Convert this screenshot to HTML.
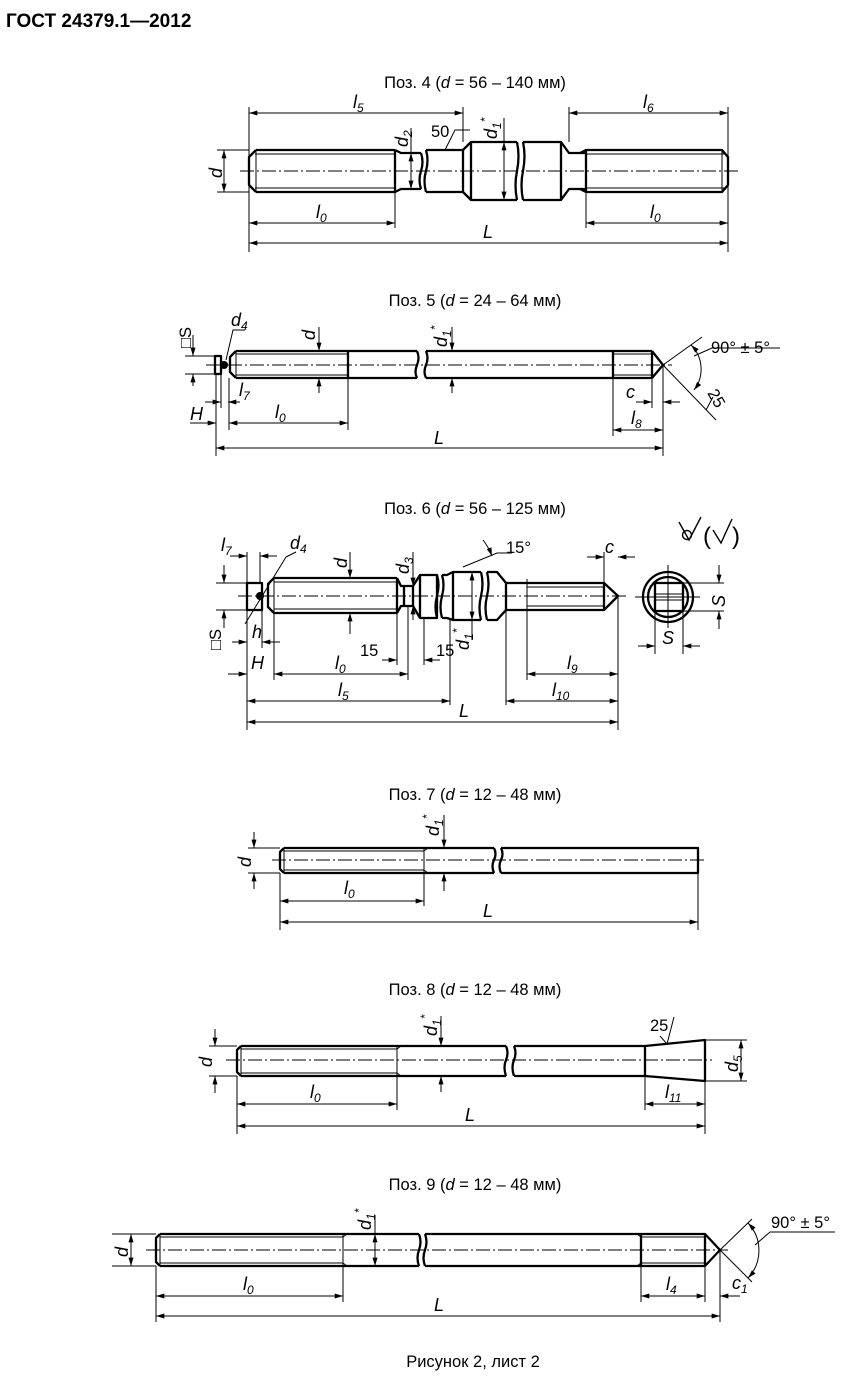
<!DOCTYPE html>
<html><head><meta charset="utf-8">
<style>
html,body{margin:0;padding:0;background:#fff;}
svg{display:block;}
text{font-family:"Liberation Sans",sans-serif;fill:#000;}
.t{font-size:16.5px;}
.i{font-style:italic;font-size:18px;}
.s{font-size:12px;font-style:italic;}
.o{stroke:#000;stroke-width:2.3;fill:none;stroke-linejoin:round;}
.n{stroke:#000;stroke-width:1;fill:none;}
.c{stroke:#000;stroke-width:0.9;fill:none;stroke-dasharray:14 3 2 3;}
.d{stroke:#000;stroke-width:1;fill:none;marker-start:url(#a);marker-end:url(#a);}
.e{stroke:#000;stroke-width:1;fill:none;marker-end:url(#a);}
</style></head><body>
<svg width="850" height="1381" viewBox="0 0 850 1381" xmlns="http://www.w3.org/2000/svg">
<defs>
<marker id="a" viewBox="0 0 10 6" refX="10" refY="3" markerWidth="11" markerHeight="5" orient="auto-start-reverse" markerUnits="userSpaceOnUse"><path d="M0,0 L10,3 L0,6 z" fill="#000"/></marker>
</defs>
<text x="6" y="27" style="font-size:19px;font-weight:bold">ГОСТ 24379.1—2012</text>

<!-- ===== Поз 4 ===== -->
<text x="475" y="88" class="t" text-anchor="middle">Поз. 4 (<tspan font-style="italic">d</tspan> = 56 – 140 мм)</text>
<line class="c" x1="240" y1="171" x2="740" y2="171"/>
<path class="o" d="M256,150 L395,150 M256,192 L395,192 M256,150 L249,157 L249,185 L256,192 M395,150 L395,192"/>
<path class="n" d="M255,154 L395,154 M255,188 L395,188 M256,150 L256,192"/>
<path class="o" d="M395,150 L401,153 L421,153 M395,192 L401,189 L421,189"/>
<path class="o" d="M421,153 q3,9 0,18 q-3,9 0,18 M426,150 q3,10 0,21 q-3,10 0,21"/>
<path class="o" d="M426,150 L463,150 L471,142 L517,142 M426,192 L463,192 L471,200 L517,200 M471,142 L471,200 M463,150 L463,192"/>
<path class="o" d="M517,142 q3,14 0,29 q-3,14 0,29 M523,142 q3,14 0,29 q-3,14 0,29"/>
<path class="o" d="M523,142 L561,142 L569,153 L586,153 M523,200 L561,200 L569,189 L586,189 M561,142 L561,200"/>
<path class="o" d="M580,153 L586,150 L722,150 L728,157 L728,185 L722,192 L586,192 L580,189 M586,150 L586,192"/>
<path class="n" d="M586,154 L725,154 M586,188 L725,188 M722,150 L722,192"/>
<path class="n" d="M249,107 L249,252 M463,107 L463,142 M569,107 L569,142 M728,107 L728,252 M395,192 L395,228 M586,192 L586,228 M217,150 L249,150 M217,192 L249,192"/>
<line class="d" x1="249" y1="113" x2="463" y2="113"/>
<line class="d" x1="569" y1="113" x2="728" y2="113"/>
<line class="d" x1="249" y1="223" x2="395" y2="223"/>
<line class="d" x1="586" y1="223" x2="728" y2="223"/>
<line class="d" x1="249" y1="243" x2="728" y2="243"/>
<line class="d" x1="224" y1="150" x2="224" y2="192"/>
<line class="d" x1="411" y1="153" x2="411" y2="189"/>
<path class="n" d="M411,128 L411,153 M504,118 L504,142"/>
<line class="d" x1="504" y1="142" x2="504" y2="200"/>
<path class="n" d="M445,150 L455,130 L470,130"/>
<text x="353" y="108" class="i">l<tspan class="s" dy="4">5</tspan></text>
<text x="643" y="108" class="i">l<tspan class="s" dy="4">6</tspan></text>
<text x="316" y="218" class="i">l<tspan class="s" dy="4">0</tspan></text>
<text x="650" y="218" class="i">l<tspan class="s" dy="4">0</tspan></text>
<text x="483" y="238" class="i">L</text>
<text class="i" transform="translate(222,178) rotate(-90)">d</text>
<text class="i" transform="translate(408,147) rotate(-90)">d<tspan class="s" dy="4">2</tspan></text>
<text class="i" transform="translate(497,139) rotate(-90)">d<tspan class="s" dy="4">1</tspan><tspan class="s" dy="-12">*</tspan></text>
<text x="431" y="137" class="t">50</text>

<!-- ===== Поз 5 ===== -->
<text x="475" y="306" class="t" text-anchor="middle">Поз. 5 (<tspan font-style="italic">d</tspan> = 24 – 64 мм)</text>
<line class="c" x1="206" y1="365" x2="672" y2="365"/>
<path class="o" d="M215,356 L221,356 L221,374 L215,374 Z"/>
<path class="o" d="M236,351 L348,351 M236,378 L348,378 M236,351 L230,357 L230,372 L236,378 M348,351 L348,378"/>
<path class="n" d="M236,354 L348,354 M236,375 L348,375 M236,351 L236,378"/>
<path class="o" d="M348,351 L417,351 M348,378 L417,378 M417,351 q3,7 0,14 q-3,7 0,13 M426,351 q3,7 0,14 q-3,7 0,13 M426,351 L652,351 M426,378 L652,378"/>
<path class="o" d="M613,351 L613,378 M652,351 L663,365 L652,378 M652,351 L652,378"/>
<path class="n" d="M613,354 L652,354 M613,375 L652,375"/>
<circle cx="224" cy="365" r="4" fill="#000"/>
<path class="n" d="M663,365 L702,337 M663,365 L716,420 M613,378 L613,436 M663,365 L663,456 M652,378 L652,408 M216,374 L216,456 M221,374 L221,408 M229,378 L229,430 M348,378 L348,430 M185,356 L215,356 M185,374 L215,374"/>
<line class="d" x1="229" y1="423" x2="348" y2="423"/>
<line class="d" x1="216" y1="448" x2="663" y2="448"/>
<line class="d" x1="613" y1="430" x2="663" y2="430"/>
<line class="e" x1="636" y1="402" x2="652" y2="402"/>
<line class="e" x1="680" y1="402" x2="663" y2="402"/>
<line class="e" x1="190" y1="423" x2="216" y2="423"/>
<line class="e" x1="205" y1="402" x2="221" y2="402"/>
<line class="e" x1="240" y1="402" x2="228" y2="402"/>
<line class="e" x1="193" y1="335" x2="193" y2="356"/>
<line class="e" x1="193" y1="386" x2="193" y2="374"/>
<line class="e" x1="319" y1="327" x2="319" y2="351"/>
<line class="e" x1="319" y1="393" x2="319" y2="378"/>
<line class="e" x1="452" y1="327" x2="452" y2="351"/>
<line class="e" x1="452" y1="393" x2="452" y2="378"/>
<path class="n" d="M245,330 L233,330 L226,360"/>
<path d="M691,345 A34,34 0 0 1 694,390" class="d"/>
<path class="n" d="M694,356 L712,348 L780,348"/>
<path class="n" d="M706,410 L713,397"/>
<text x="231" y="326" class="i">d<tspan class="s" dy="4">4</tspan></text>
<text class="i" transform="translate(315,340) rotate(-90)">d</text>
<text class="i" transform="translate(447,347) rotate(-90)">d<tspan class="s" dy="4">1</tspan><tspan class="s" dy="-12">*</tspan></text>
<text class="t" transform="translate(191,348) rotate(-90)">□S</text>
<text x="239" y="396" class="i">l<tspan class="s" dy="4">7</tspan></text>
<text x="190" y="420" class="i">H</text>
<text x="275" y="418" class="i">l<tspan class="s" dy="4">0</tspan></text>
<text x="434" y="444" class="i">L</text>
<text x="626" y="398" class="i">c</text>
<text x="631" y="424" class="i">l<tspan class="s" dy="4">8</tspan></text>
<text x="711" y="353" class="t">90° ± 5°</text>
<text class="t" transform="translate(707,393) rotate(60)">25</text>

<!-- ===== Поз 6 ===== -->
<text x="475" y="514" class="t" text-anchor="middle">Поз. 6 (<tspan font-style="italic">d</tspan> = 56 – 125 мм)</text>
<line class="c" x1="238" y1="596" x2="628" y2="596"/>
<path class="o" d="M247,583 L262,583 L262,610 L247,610 Z"/>
<path class="o" d="M274,578 L397,578 M274,613 L397,613 M274,578 L268,584 L268,607 L274,613 M397,578 L397,613"/>
<path class="n" d="M274,582 L397,582 M274,609 L397,609 M274,578 L274,613"/>
<path class="o" d="M397,578 L401,586 L404,586 L404,606 L401,606 L397,613"/>
<path class="o" d="M404,586 L413,586 L413,606 L404,606"/>
<path class="o" d="M413,586 L420,575 L437,575 L437,618 L420,618 L413,606 M420,575 L420,618"/>
<path class="o" d="M437,575 q3,10 0,21 q-3,11 0,22 M442,575 q3,10 0,21 q-3,11 0,22"/>
<path class="o" d="M442,575 L447,575 L453,572 L481,572 M442,618 L447,618 L453,620 L481,620 M453,572 L453,620 M481,572 q3,12 0,24 q-3,12 0,24 M487,572 q3,12 0,24 q-3,12 0,24 M487,572 L497,572 L506,583 L527,583 M487,620 L497,620 L506,610 L527,610 M506,583 L506,610"/>
<path class="o" d="M527,583 L604,583 L618,596 L604,610 L527,610 M604,583 L604,610"/>
<path class="n" d="M527,579 L527,614 M527,587 L604,587 M527,606 L604,606"/>
<circle cx="260" cy="596" r="4" fill="#000"/>
<circle cx="668" cy="597" r="25" class="o"/>
<circle cx="668" cy="597" r="20" class="o"/>
<rect x="655" y="583" width="28" height="28" class="o"/>
<path class="n" d="M668,565 L668,628 M635,597 L700,597 M655,594 L683,594 M655,600 L683,600"/>
<path class="n" d="M683,583 L724,583 M683,611 L724,611 M655,611 L655,654 M683,611 L683,654"/>
<line class="e" x1="719" y1="565" x2="719" y2="583"/>
<line class="e" x1="719" y1="629" x2="719" y2="611"/>
<line class="e" x1="638" y1="646" x2="655" y2="646"/>
<line class="e" x1="700" y1="646" x2="683" y2="646"/>
<text class="i" transform="translate(725,607) rotate(-90)">S</text>
<text x="662" y="644" class="i">S</text>
<path class="n" d="M679,522 L689,540 L701,517" style="stroke-width:1.4"/>
<circle cx="687" cy="535" r="4.5" class="n" style="stroke-width:1.4"/>
<text x="703" y="544" style="font-size:24px;font-family:'Liberation Sans',sans-serif">(</text>
<path class="n" d="M713,530 L721,543 L732,519" style="stroke-width:1.4"/>
<text x="732" y="544" style="font-size:24px;font-family:'Liberation Sans',sans-serif">)</text>
<path class="n" d="M247,552 L247,730 M260,552 L260,583 M274,613 L274,680 M262,610 L262,648 M397,613 L397,665 M408,606 L408,680 M424,618 L424,665 M450,620 L450,705 M506,610 L506,705 M527,614 L527,680 M604,552 L604,583 M618,596 L618,730 M216,583 L247,583 M216,610 L247,610"/>
<line class="e" x1="230" y1="556" x2="247" y2="556"/>
<line class="e" x1="277" y1="556" x2="260" y2="556"/>
<line class="e" x1="587" y1="557" x2="604" y2="557"/>
<line class="e" x1="635" y1="557" x2="618" y2="557"/>
<line class="e" x1="224" y1="565" x2="224" y2="583"/>
<line class="e" x1="224" y1="628" x2="224" y2="610"/>
<line class="e" x1="232" y1="642" x2="247" y2="642"/>
<line class="e" x1="280" y1="642" x2="262" y2="642"/>
<line class="e" x1="228" y1="674" x2="247" y2="674"/>
<line class="d" x1="274" y1="674" x2="408" y2="674"/>
<line class="e" x1="382" y1="660" x2="397" y2="660"/>
<line class="e" x1="440" y1="660" x2="424" y2="660"/>
<line class="d" x1="247" y1="701" x2="450" y2="701"/>
<line class="d" x1="247" y1="722" x2="618" y2="722"/>
<line class="d" x1="527" y1="674" x2="618" y2="674"/>
<line class="d" x1="506" y1="701" x2="618" y2="701"/>
<line class="e" x1="350" y1="552" x2="350" y2="578"/>
<line class="e" x1="350" y1="634" x2="350" y2="613"/>
<line class="e" x1="413" y1="552" x2="413" y2="586"/>
<line class="e" x1="413" y1="620" x2="413" y2="606"/>
<line class="d" x1="472" y1="572" x2="472" y2="620"/>
<path class="n" d="M472,620 L472,640"/>
<path class="n" d="M286,557 L245,624 M296,552 L286,557"/>
<path class="n" d="M463,567 L497,553 L512,553"/>
<path class="e" d="M483,540 A60,60 0 0 1 492,556"/>
<text x="290" y="549" class="i">d<tspan class="s" dy="4">4</tspan></text>
<text x="221" y="551" class="i">l<tspan class="s" dy="4">7</tspan></text>
<text class="i" transform="translate(347,568) rotate(-90)">d</text>
<text class="i" transform="translate(409,574) rotate(-90)">d<tspan class="s" dy="4">3</tspan></text>
<text class="i" transform="translate(469,650) rotate(-90)">d<tspan class="s" dy="4">1</tspan><tspan class="s" dy="-12">*</tspan></text>
<text x="506" y="553" class="t">15°</text>
<text x="605" y="553" class="i">c</text>
<text class="t" transform="translate(221,650) rotate(-90)">□S</text>
<text x="252" y="638" class="i">h</text>
<text x="251" y="669" class="i">H</text>
<text x="335" y="669" class="i">l<tspan class="s" dy="4">0</tspan></text>
<text x="360" y="656" class="t">15</text>
<text x="436" y="656" class="t">15</text>
<text x="338" y="696" class="i">l<tspan class="s" dy="4">5</tspan></text>
<text x="459" y="717" class="i">L</text>
<text x="567" y="669" class="i">l<tspan class="s" dy="4">9</tspan></text>
<text x="552" y="696" class="i">l<tspan class="s" dy="4">10</tspan></text>

<!-- ===== Поз 7 ===== -->
<text x="475" y="800" class="t" text-anchor="middle">Поз. 7 (<tspan font-style="italic">d</tspan> = 12 – 48 мм)</text>
<line class="c" x1="272" y1="860" x2="706" y2="860"/>
<path class="o" d="M284,848 L424,848 M284,873 L424,873 M284,848 L280,852 L280,869 L284,873"/>
<path class="n" d="M284,851 L424,851 M284,870 L424,870 M284,848 L284,873 M424,848 L424,873 M424,851 L428,848 M424,870 L428,873"/>
<path class="o" d="M424,848 L494,848 M424,873 L494,873 M494,848 q3,6 0,12 q-3,6 0,13 M501,848 q3,6 0,12 q-3,6 0,13 M501,848 L698,848 L698,873 L501,873"/>
<path class="n" d="M248,848 L280,848 M248,873 L280,873 M280,873 L280,930 M424,873 L424,906 M698,873 L698,930 M444,873 L444,891"/>
<line class="e" x1="254" y1="832" x2="254" y2="848"/>
<line class="e" x1="254" y1="889" x2="254" y2="873"/>
<line class="e" x1="444" y1="815" x2="444" y2="848"/>
<line class="e" x1="444" y1="888" x2="444" y2="873"/>
<line class="d" x1="280" y1="901" x2="424" y2="901"/>
<line class="d" x1="280" y1="922" x2="698" y2="922"/>
<text class="i" transform="translate(251,867) rotate(-90)">d</text>
<text class="i" transform="translate(439,836) rotate(-90)">d<tspan class="s" dy="4">1</tspan><tspan class="s" dy="-12">*</tspan></text>
<text x="344" y="894" class="i">l<tspan class="s" dy="4">0</tspan></text>
<text x="483" y="917" class="i">L</text>

<!-- ===== Поз 8 ===== -->
<text x="475" y="995" class="t" text-anchor="middle">Поз. 8 (<tspan font-style="italic">d</tspan> = 12 – 48 мм)</text>
<line class="c" x1="226" y1="1060" x2="712" y2="1060"/>
<path class="o" d="M241,1046 L397,1046 M241,1076 L397,1076 M241,1046 L237,1050 L237,1072 L241,1076"/>
<path class="n" d="M241,1049 L397,1049 M241,1073 L397,1073 M241,1046 L241,1076 M397,1046 L397,1076 M397,1049 L401,1046 M397,1073 L401,1076"/>
<path class="o" d="M397,1046 L506,1046 M397,1076 L506,1076 M506,1046 q3,7 0,14 q-3,7 0,16 M514,1046 q3,7 0,14 q-3,7 0,16 M514,1046 L645,1046 L705,1040 L705,1081 L645,1076 L514,1076 M645,1046 L645,1076"/>
<path class="n" d="M705,1040 L747,1040 M705,1081 L747,1081 M209,1046 L237,1046 M209,1076 L237,1076 M237,1076 L237,1134 M397,1076 L397,1110 M645,1076 L645,1110 M705,1081 L705,1134 M441,1076 L441,1092"/>
<line class="d" x1="741" y1="1040" x2="741" y2="1081"/>
<line class="e" x1="215" y1="1029" x2="215" y2="1046"/>
<line class="e" x1="215" y1="1093" x2="215" y2="1076"/>
<line class="e" x1="441" y1="1016" x2="441" y2="1046"/>
<line class="e" x1="441" y1="1091" x2="441" y2="1076"/>
<line class="d" x1="237" y1="1104" x2="397" y2="1104"/>
<line class="d" x1="237" y1="1126" x2="705" y2="1126"/>
<line class="d" x1="645" y1="1104" x2="705" y2="1104"/>
<path class="n" d="M674,1017 L667,1044 L660,1036"/>
<text x="650" y="1031" class="t">25</text>
<text class="i" transform="translate(212,1067) rotate(-90)">d</text>
<text class="i" transform="translate(437,1036) rotate(-90)">d<tspan class="s" dy="4">1</tspan><tspan class="s" dy="-12">*</tspan></text>
<text class="i" transform="translate(738,1072) rotate(-90)">d<tspan class="s" dy="4">5</tspan></text>
<text x="310" y="1098" class="i">l<tspan class="s" dy="4">0</tspan></text>
<text x="465" y="1121" class="i">L</text>
<text x="665" y="1098" class="i">l<tspan class="s" dy="4">11</tspan></text>

<!-- ===== Поз 9 ===== -->
<text x="475" y="1190" class="t" text-anchor="middle">Поз. 9 (<tspan font-style="italic">d</tspan> = 12 – 48 мм)</text>
<line class="c" x1="146" y1="1250" x2="728" y2="1250"/>
<path class="o" d="M160,1234 L343,1234 M160,1266 L343,1266 M160,1234 L156,1238 L156,1262 L160,1266"/>
<path class="n" d="M160,1237 L343,1237 M160,1263 L343,1263 M160,1234 L160,1266 M343,1234 L343,1266 M343,1237 L347,1234 M343,1263 L347,1266"/>
<path class="o" d="M343,1234 L419,1234 M343,1266 L419,1266 M419,1234 q3,8 0,16 q-3,8 0,16 M425,1234 q3,8 0,16 q-3,8 0,16 M425,1234 L705,1234 L720,1250 L705,1266 L425,1266 M641,1234 L641,1266 M705,1234 L705,1266"/>
<path class="n" d="M641,1237 L705,1237 M641,1263 L705,1263 M637,1234 L641,1237 M637,1266 L641,1263"/>
<path class="n" d="M112,1234 L156,1234 M112,1266 L156,1266 M156,1266 L156,1322 M343,1266 L343,1302 M641,1266 L641,1302 M705,1266 L705,1302 M720,1250 L720,1322 M720,1250 L752,1219 M720,1250 L752,1282 M375,1215 L375,1234"/>
<line class="d" x1="131" y1="1234" x2="131" y2="1266"/>
<line class="d" x1="375" y1="1234" x2="375" y2="1266"/>
<line class="d" x1="156" y1="1296" x2="343" y2="1296"/>
<line class="d" x1="156" y1="1316" x2="720" y2="1316"/>
<line class="d" x1="641" y1="1296" x2="705" y2="1296"/>
<line class="e" x1="740" y1="1296" x2="720" y2="1296"/>
<path class="d" d="M748,1223 A40,40 0 0 1 748,1278"/>
<path class="n" d="M755,1245 L770,1232 L835,1232"/>
<text x="771" y="1228" class="t">90° ± 5°</text>
<text class="i" transform="translate(128,1257) rotate(-90)">d</text>
<text class="i" transform="translate(371,1230) rotate(-90)">d<tspan class="s" dy="4">1</tspan><tspan class="s" dy="-12">*</tspan></text>
<text x="243" y="1290" class="i">l<tspan class="s" dy="4">0</tspan></text>
<text x="434" y="1311" class="i">L</text>
<text x="666" y="1290" class="i">l<tspan class="s" dy="4">4</tspan></text>
<text x="732" y="1289" class="i">c<tspan class="s" dy="4">1</tspan></text>

<text x="473" y="1367" class="t" text-anchor="middle">Рисунок 2, лист 2</text>
</svg>
</body></html>
